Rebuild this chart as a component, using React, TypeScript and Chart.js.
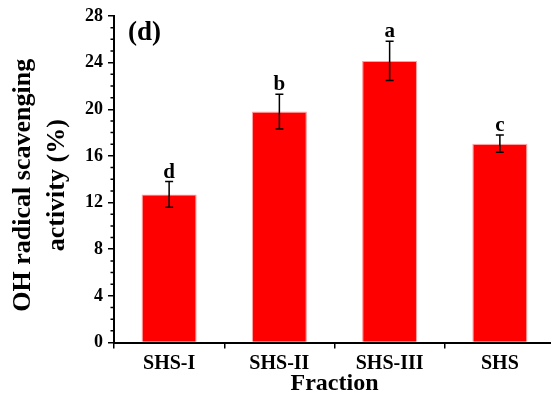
import { useEffect, useRef } from 'react';
import { Chart, registerables } from 'chart.js';

Chart.register(...registerables);

// OH radical scavenging activity per fraction (mean ± SD), with significance letters
const categories = ['SHS-I', 'SHS-II', 'SHS-III', 'SHS'];
const activity = [12.7, 19.8, 24.15, 17.05];
const stdDev = [1.1, 1.5, 1.68, 0.74];
const groupLetters = ['d', 'b', 'a', 'c'];

const yMin = 0;
const yMax = 28;
const yStep = 4;
const yMinorStep = 1;

const panelLabel = '(d)';
const yTitle = ['OH radical scavenging', 'activity (%)'];
const xTitle = 'Fraction';

const SERIF = "'Liberation Serif', 'Times New Roman', serif";

// error bars + letters above each bar
const errorBarPlugin = {
  id: 'errorBars',
  afterDatasetsDraw(chart: any) {
    const { ctx } = chart;
    const y = chart.scales.y;
    const meta = chart.getDatasetMeta(0);
    ctx.save();
    ctx.strokeStyle = '#000';
    ctx.fillStyle = '#000';
    ctx.lineWidth = 1.5;
    ctx.font = `bold 21px ${SERIF}`;
    ctx.textAlign = 'center';
    ctx.textBaseline = 'alphabetic';
    activity.forEach((v, i) => {
      const cx = meta.data[i].x;
      const top = y.getPixelForValue(v + stdDev[i]);
      const bot = y.getPixelForValue(v - stdDev[i]);
      ctx.beginPath();
      ctx.moveTo(cx, top);
      ctx.lineTo(cx, bot);
      ctx.moveTo(cx - 4, top);
      ctx.lineTo(cx + 4, top);
      ctx.moveTo(cx - 4, bot);
      ctx.lineTo(cx + 4, bot);
      ctx.stroke();
      ctx.fillText(groupLetters[i], cx, top - 4);
    });
    ctx.restore();
  },
};

// minor ticks on the value axis, the rotated two-line axis title and the panel label
const decorPlugin = {
  id: 'decor',
  afterDraw(chart: any) {
    const { ctx, chartArea } = chart;
    const y = chart.scales.y;
    ctx.save();
    ctx.strokeStyle = '#000';
    ctx.lineWidth = 1.5;
    ctx.beginPath();
    for (let v = yMin; v <= yMax; v += yMinorStep) {
      if (v % yStep === 0) continue;
      const py = y.getPixelForValue(v);
      ctx.moveTo(y.right - 3.5, py);
      ctx.lineTo(y.right, py);
    }
    ctx.stroke();

    ctx.fillStyle = '#000';
    ctx.font = `bold 27px ${SERIF}`;
    ctx.textAlign = 'left';
    ctx.textBaseline = 'alphabetic';
    ctx.fillText(panelLabel, chartArea.left + 14, chartArea.top + 24);

    // value-axis title, reading bottom to top
    const midY = (chartArea.top + chartArea.bottom) / 2 + 6;
    ctx.translate(0, midY);
    ctx.rotate(-Math.PI / 2);
    ctx.font = `bold 26px ${SERIF}`;
    ctx.textAlign = 'center';
    ctx.textBaseline = 'middle';
    yTitle.forEach((line, i) => {
      ctx.fillText(line, 0, 23 + i * 34);
    });
    ctx.restore();
  },
};

export default function App() {
  const ref = useRef<HTMLCanvasElement>(null);

  useEffect(() => {
    if (!ref.current) return;
    const chart = new Chart(ref.current, {
      type: 'bar',
      data: {
        labels: categories,
        datasets: [
          {
            data: activity,
            backgroundColor: '#ff0000',
            borderColor: '#ffa0a0',
            borderWidth: 1.2,
            barPercentage: 0.5,
            categoryPercentage: 1,
          },
        ],
      },
      options: {
        responsive: false,
        devicePixelRatio: 1,
        animation: false,
        layout: { padding: { top: 16, right: 0, left: 0, bottom: 0 } },
        plugins: {
          legend: { display: false },
          tooltip: { enabled: false },
        },
        scales: {
          x: {
            type: 'category',
            grid: {
              display: true,
              drawOnChartArea: false,
              drawTicks: true,
              tickLength: 6,
              color: '#000',
              lineWidth: 1.5,
            },
            border: { display: true, color: '#000', width: 2 },
            ticks: {
              color: '#000',
              padding: 3,
              font: { family: SERIF, size: 20, weight: 'bold' },
            },
            title: {
              display: true,
              text: xTitle,
              color: '#000',
              padding: { top: 0, bottom: 9 },
              font: { family: SERIF, size: 24, weight: 'bold' },
            },
            afterFit(scale: any) {
              scale.height = 64.5;
            },
          },
          y: {
            min: yMin,
            max: yMax,
            grid: {
              display: true,
              drawOnChartArea: false,
              drawTicks: true,
              tickLength: 6,
              color: '#000',
              lineWidth: 1.5,
            },
            border: { display: true, color: '#000', width: 2 },
            ticks: {
              stepSize: yStep,
              color: '#000',
              padding: 5,
              font: { family: SERIF, size: 18, weight: 'bold' },
            },
            afterFit(scale: any) {
              scale.width = 114;
            },
          },
        },
      },
      plugins: [errorBarPlugin, decorPlugin],
    } as any);
    return () => chart.destroy();
  }, []);

  return (
    <div
      style={{
        position: 'fixed',
        left: 0,
        top: 0,
        width: 551,
        height: 407,
        overflow: 'hidden',
        background: '#fff',
      }}
    >
      <canvas ref={ref} width={555} height={407} style={{ display: 'block', width: 555, height: 407 }} />
    </div>
  );
}
